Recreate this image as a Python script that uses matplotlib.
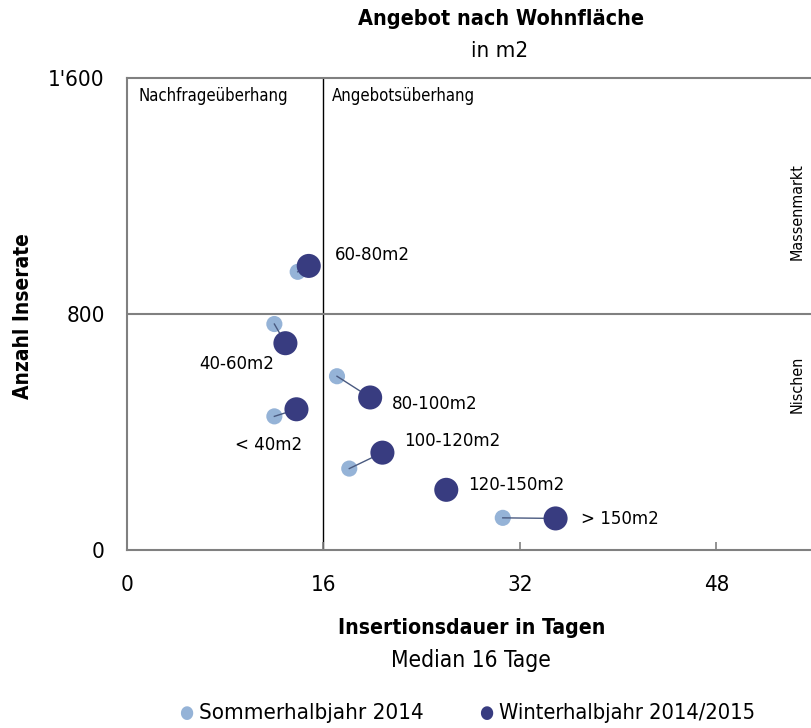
import matplotlib
matplotlib.use("Agg")
import matplotlib.pyplot as plt

# data (x = Insertionsdauer in Tagen, y = Anzahl Inserate)
categories = ['< 40m2', '40-60m2', '60-80m2', '80-100m2', '100-120m2', '120-150m2', '> 150m2']
sommer_x = [12.0, 12.0, 13.9, 17.1, 18.1, 26.0, 30.6]
sommer_y = [453, 766, 943, 589, 276, 204, 109]
winter_x = [13.8, 12.9, 14.8, 19.8, 20.8, 26.0, 34.9]
winter_y = [477, 701, 963, 517, 330, 204, 107]
x_ticks = [0, 16, 32, 48]
y_ticks = [0, 800, 1600]
y_ticklabels = ['0', '800', "1'600"]
median_days = 16
mid_count = 800

# label offsets in pixels from the winter point
label_off = [(6, -36, 'right'), (-11, -21, 'right'), (26, 11, 'left'), (22, -7, 'left'),
             (22, 12, 'left'), (22, 5, 'left'), (25, -1, 'left')]

LIGHT = '#95b3d7'
DARK = '#383c80'
plt.rcParams['font.family'] = ['DejaVu Sans']
plt.rcParams['font.stretch'] = 'condensed'

fig = plt.figure(figsize=(8.11, 7.28), dpi=100)
ax = fig.add_axes([127/811, 1 - 550/728, 1 - 127/811, (550 - 78)/728])

ax.set_xlim(0, 55.7)
ax.set_ylim(0, 1600)

# quadrant lines
ax.axvline(median_days, color='black', lw=1.0, zorder=1)
ax.axhline(mid_count, color='#808080', lw=1.5, zorder=1)

ax.scatter(sommer_x, sommer_y, s=135, color=LIGHT, edgecolor='none', zorder=3)
for i in range(len(categories)):
    ax.plot([sommer_x[i], winter_x[i]], [sommer_y[i], winter_y[i]], color='#4a5a80', lw=1.0, zorder=4)
ax.scatter(winter_x, winter_y, s=300, color=DARK, edgecolor='none', zorder=5)

for i, cat in enumerate(categories):
    dx, dy, ha = label_off[i]
    ax.annotate(cat, (winter_x[i], winter_y[i]), xytext=(dx, dy), textcoords='offset pixels',
                ha=ha, va='center', fontsize=13.3)

for s in ['top', 'bottom', 'left']:
    ax.spines[s].set_color('#808080')
    ax.spines[s].set_linewidth(1.5)
ax.spines['right'].set_visible(False)

ax.set_xticks(x_ticks)
ax.set_xticklabels([str(t) for t in x_ticks], fontsize=16)
ax.tick_params(axis='x', direction='in', length=6, color='#808080', width=1.2, pad=18)
ax.set_yticks(y_ticks)
ax.set_yticklabels(y_ticklabels, fontsize=16)
ax.tick_params(axis='y', length=0, pad=16)

# quadrant annotations
ax.text(0.9, 1540, 'Nachfrageüberhang', fontsize=12, va='center')
ax.text(median_days + 0.7, 1540, 'Angebotsüberhang', fontsize=12, va='center')
ax.text(54.6, 1147, 'Massenmarkt', rotation=90, fontsize=11.5, ha='center', va='center')
ax.text(54.6, 562, 'Nischen', rotation=90, fontsize=11.5, ha='center', va='center')

fig.text(501/811, 1 - 19/728, 'Angebot nach Wohnfläche', ha='center', va='center', fontsize=15.5, fontweight='bold')
fig.text(500/811, 1 - 51/728, 'in m2', ha='center', va='center', fontsize=16)
fig.text(472/811, 1 - 628/728, 'Insertionsdauer in Tagen', ha='center', va='center', fontsize=15.2, fontweight='bold')
fig.text(471/811, 1 - 660/728, 'Median 16 Tage', ha='center', va='center', fontsize=16.3)
fig.text(23/811, 1 - 316/728, 'Anzahl Inserate', ha='center', va='center', fontsize=15, fontweight='bold', rotation=90)

# legend
fig.text(179/811, 1 - 713/728, '●', color=LIGHT, ha='left', va='center', fontsize=13)
fig.text(199/811, 1 - 713/728, 'Sommerhalbjahr 2014', ha='left', va='center', fontsize=16)
fig.text(479/811, 1 - 713/728, '●', color=DARK, ha='left', va='center', fontsize=13)
fig.text(499/811, 1 - 713/728, 'Winterhalbjahr 2014/2015', ha='left', va='center', fontsize=15.7)

fig.savefig('out.png', dpi=100)
